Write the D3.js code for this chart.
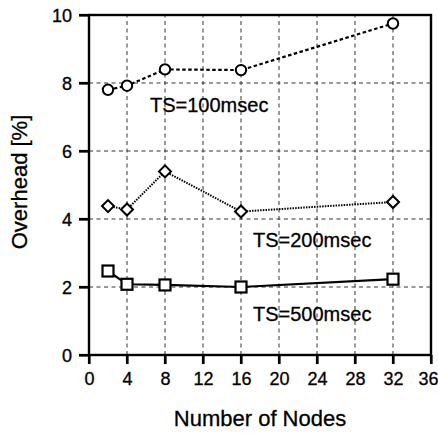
<!DOCTYPE html>
<html><head><meta charset="utf-8">
<script src="https://cdn.jsdelivr.net/npm/d3@7"></script>
<style>body{margin:0;background:#fff}svg{display:block}text{font-family:"Liberation Sans",Arial,sans-serif;fill:#000;stroke:#000;stroke-width:0.3px}</style>
</head><body><svg id="c" width="438" height="434"></svg>
<script>
const nodes = [2, 4, 8, 16, 32];
const ts100 = [7.8, 7.92, 8.4, 8.38, 9.75];
const ts200 = [4.38, 4.28, 5.4, 4.22, 4.5];
const ts500 = [2.47, 2.08, 2.06, 2.0, 2.23];
const xTicks = [0, 4, 8, 12, 16, 20, 24, 28, 32, 36];
const yTicks = [0, 2, 4, 6, 8, 10];
const seriesNames = ["TS=100msec", "TS=200msec", "TS=500msec"];

const W = 438, H = 434;
const m = {l: 89, r: 7, t: 15, b: 79};
const svg = d3.select("#c");
const x = d3.scaleLinear().domain([0, 36]).range([m.l, W - m.r]);
const y = d3.scaleLinear().domain([0, 10]).range([H - m.b, m.t]);

// grid
const g = svg.append("g");
g.selectAll(".vg").data(xTicks.filter(d => d > 0 && d < 36)).join("line")
  .attr("x1", d => x(d)).attr("x2", d => x(d)).attr("y1", y(0)).attr("y2", y(10))
  .attr("stroke", "#333").attr("stroke-width", 1).attr("stroke-dasharray", "4,3.5");
g.selectAll(".hg").data(yTicks.filter(d => d > 0 && d < 10)).join("line")
  .attr("y1", d => y(d)).attr("y2", d => y(d)).attr("x1", x(0)).attr("x2", x(36))
  .attr("stroke", "#333").attr("stroke-width", 1).attr("stroke-dasharray", "4,3.5");

// axes
const xAxis = d3.axisBottom(x).tickValues(xTicks).tickSize(9).tickPadding(8);
const yAxis = d3.axisLeft(y).tickValues(yTicks).tickSize(10).tickPadding(7);
const xa = svg.append("g").attr("transform", `translate(0,${y(0)})`).call(xAxis);
const ya = svg.append("g").attr("transform", `translate(${x(0)},0)`).call(yAxis);
[xa, ya].forEach(a => {
  a.select(".domain").remove();
  a.selectAll(".tick line").attr("stroke", "#000").attr("stroke-width", 2.2).style("stroke", "#000");
  a.selectAll("text").attr("font-size", 18).attr("font-family", "Liberation Sans, Arial, sans-serif").attr("fill", "#000");
});
ya.selectAll("text").attr("dy", "0.35em");
xa.selectAll("text").attr("dy", "0.71em").attr("dx", d => d === 36 ? -3 : 0);

// explicit outward tick marks
svg.append("g").selectAll("line").data(xTicks).join("line")
  .attr("x1", d => x(d)).attr("x2", d => x(d)).attr("y1", y(0)).attr("y2", y(0) + 9)
  .attr("stroke", "#000").attr("stroke-width", 2.2);
svg.append("g").selectAll("line").data(yTicks).join("line")
  .attr("y1", d => y(d)).attr("y2", d => y(d)).attr("x1", x(0) - 10).attr("x2", x(0))
  .attr("stroke", "#000").attr("stroke-width", 2.2);

// frame
svg.append("rect").attr("x", x(0)).attr("y", y(10)).attr("width", x(36) - x(0)).attr("height", y(0) - y(10))
  .attr("fill", "none").attr("stroke", "#000").attr("stroke-width", 2.4);

// series
const line = d3.line().x((d, i) => x(nodes[i])).y(d => y(d));
svg.append("path").datum(ts100).attr("d", line).attr("fill", "none").attr("stroke", "#000")
  .attr("stroke-width", 2.2).attr("stroke-dasharray", "3.5,2.5");
svg.append("path").datum(ts200).attr("d", line).attr("fill", "none").attr("stroke", "#000")
  .attr("stroke-width", 2).attr("stroke-dasharray", "1.5,1.2");
svg.append("path").datum(ts500).attr("d", line).attr("fill", "none").attr("stroke", "#000")
  .attr("stroke-width", 2.2);

svg.selectAll(".c1").data(ts100).join("circle")
  .attr("cx", (d, i) => x(nodes[i])).attr("cy", d => y(d)).attr("r", 5.2)
  .attr("fill", "#fff").attr("stroke", "#000").attr("stroke-width", 2);
const sym = d3.symbol().type(d3.symbolSquare).size(72);
svg.selectAll(".d1").data(ts200).join("path")
  .attr("d", sym).attr("transform", (d, i) => `translate(${x(nodes[i])},${y(d)}) rotate(45)`)
  .attr("fill", "#fff").attr("stroke", "#000").attr("stroke-width", 2);
svg.selectAll(".s1").data(ts500).join("rect")
  .attr("x", (d, i) => x(nodes[i]) - 5.5).attr("y", d => y(d) - 5.5).attr("width", 11).attr("height", 11)
  .attr("fill", "#fff").attr("stroke", "#000").attr("stroke-width", 2.2);

// labels
const labelPos = [[150, 112], [253, 247], [253, 321]];
svg.selectAll(".lbl").data(seriesNames).join("text")
  .attr("x", (d, i) => labelPos[i][0]).attr("y", (d, i) => labelPos[i][1])
  .attr("font-size", 20).text(d => d);

// axis titles
svg.append("text").attr("x", (x(0) + x(36)) / 2).attr("y", 426).attr("text-anchor", "middle")
  .attr("font-size", 22).text("Number of Nodes");
svg.append("text").attr("transform", "translate(27,182) rotate(-90)").attr("text-anchor", "middle")
  .attr("font-size", 22).text("Overhead [%]");
</script></body></html>
